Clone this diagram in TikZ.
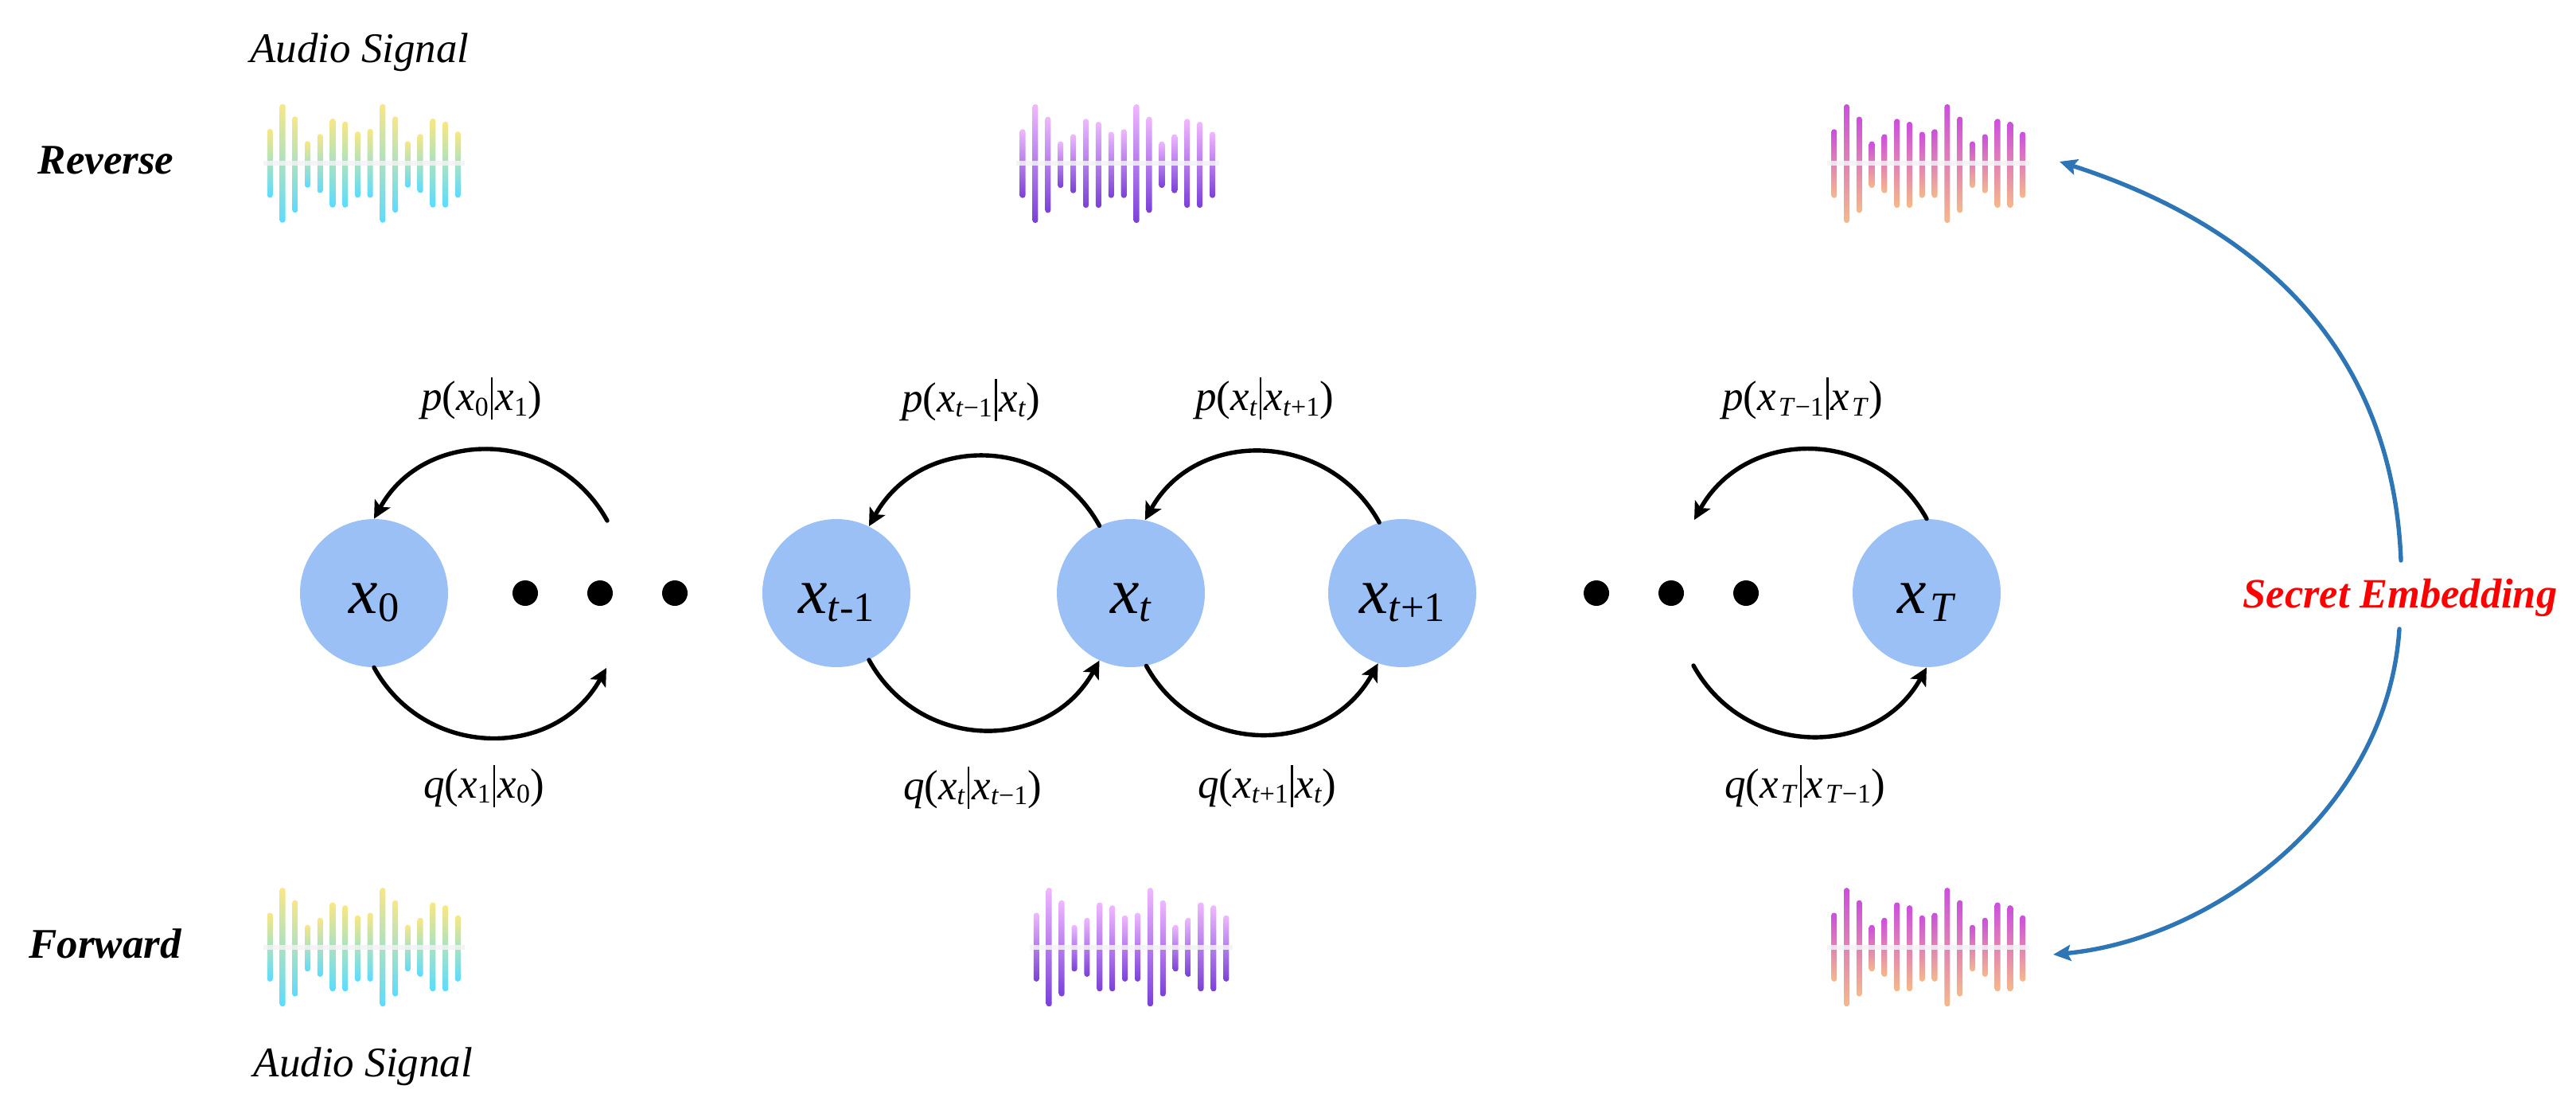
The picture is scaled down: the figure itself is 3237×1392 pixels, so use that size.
\documentclass[tikz,border=0pt]{standalone}
\usepackage{fontspec}
\usepackage{graphicx}
\setmainfont{Liberation Serif}
\usetikzlibrary{arrows.meta}
\definecolor{nodeblue}{HTML}{9BC0F5}
\definecolor{arcblue}{HTML}{2E75B6}
\definecolor{midline}{HTML}{F2F2F5}
\newcommand{\vv}[1]{\textit{#1}}
\newcommand{\sbs}[1]{\raisebox{-0.13em}{\scalebox{0.64}{#1}}}
\newcommand{\tsb}[1]{\hspace{0.03em}\raisebox{-0.13em}{\scalebox{0.64}{\hspace{0.04em}#1}}}
\newcommand{\tb}{\hspace{0.06em}\raisebox{-0.22em}{\rule{0.045em}{1.0em}}\hspace{0.06em}}
\newcommand{\st}[1]{\raisebox{-12.5pt}[0pt][0pt]{#1}}
\tikzset{
  x=0.5pt,y=-0.5pt,
  state/.style={circle,fill=nodeblue,inner sep=0pt,minimum size=93pt,font=\fontsize{41}{44}\selectfont},
  dotnode/.style={circle,fill=black,inner sep=0pt,minimum size=16pt},
  flow/.style={draw=black,line width=2.7pt,line cap=round,-{Stealth[length=11pt,width=11pt,inset=2.5pt]}},
  embed/.style={draw=arcblue,line width=2.7pt,line cap=round,-{Stealth[length=11pt,width=10pt,inset=2pt]}},
  prob/.style={anchor=base,inner sep=0pt,font=\fontsize{26.5}{30}\selectfont},
  side/.style={anchor=base,inner sep=0pt,font=\fontsize{26.5}{30}\selectfont\itshape},
  phase/.style={anchor=base,inner sep=0pt,font=\fontsize{26.5}{30}\selectfont\bfseries\itshape},
  secret/.style={anchor=base,inner sep=0pt,text=red,font=\fontsize{26.2}{32}\selectfont\bfseries\itshape},
}
% #1 x of first bar, #2 y of centre line, #3 top, #4 middle, #5 bottom colour, #6 bar spacing
\newcommand{\wave}[6]{%
  \foreach \i/\u/\d in {0/43/43.3,1/74.3/74.7,2/58.7/62,3/27.7/30.7,4/36.7/37.3,5/56/55.7,6/52.3/55.7,7/39.7/43.3,8/43/43.3,9/74.3/74.7,10/58.7/62,11/27.7/30.7,12/36.7/37.3,13/56/55.7,14/52.3/55.7,15/39.7/43.3}{%
    \shade[rounded corners=1.6pt,top color=#3,middle color=#4,bottom color=#5]
      ({#1+\i*#6-3.5},{#2-\u}) rectangle ({#1+\i*#6+3.5},{#2+\d});
  }%
  \fill[midline,opacity=0.85] ({#1-8.5},{#2-3}) rectangle ({#1+15*#6+8.5},{#2+3});
}
\definecolor{gT}{HTML}{F9E784}\definecolor{gM}{HTML}{B2E6BE}\definecolor{gB}{HTML}{5ADCFF}
\definecolor{pT}{HTML}{F0B8FF}\definecolor{pM}{HTML}{E4AEF2}\definecolor{pB}{HTML}{7A40D8}
\definecolor{oT}{HTML}{CC4EDD}\definecolor{oM}{HTML}{E89BA0}\definecolor{oB}{HTML}{F5B98A}
\begin{document}
\begin{tikzpicture}
\useasboundingbox (0,0) rectangle (3237,1392);
% waveforms
\wave{339.3}{205}{gT}{gM}{gB}{15.74}
\wave{1285}{205.3}{pT}{pM}{pB}{15.9}
\wave{2304.7}{205.3}{oT}{oM}{oB}{15.8}
\wave{339.3}{1189.5}{gT}{gM}{gB}{15.74}
\wave{1302.3}{1189.5}{pT}{pM}{pB}{15.9}
\wave{2304.7}{1189.5}{oT}{oM}{oB}{15.8}
% states
\node[state] (x0) at (470,745) {\st{\vv{x}\sbs{0}}};
\node[state] (xm) at (1051,745) {\st{\vv{x}\sbs{\vv{t}-1}}};
\node[state] (xt) at (1421,745) {\st{\vv{x}\sbs{\vv{t}}}};
\node[state] (xp) at (1762,745) {\st{\vv{x}\sbs{\vv{t}+1}}};
\node[state] (xT) at (2421,745) {\st{\vv{x}\tsb{\vv{T}}}};
% dots
\node[dotnode] (d1) at (660,745) {};
\node[dotnode] (d2) at (754,745) {};
\node[dotnode] (d3) at (848,745) {};
\node[dotnode] (d4) at (2006,745) {};
\node[dotnode] (d5) at (2100,745) {};
\node[dotnode] (d6) at (2194,745) {};
% free ends
\coordinate (fa) at (763,654);
\coordinate (fb) at (762,839);
\coordinate (fc) at (2129,653);
\coordinate (fd) at (2128,836);
\coordinate (ea) at (3017,704);
\coordinate (eb) at (2588,203);
\coordinate (ec) at (3015,790);
\coordinate (ed) at (2580,1199);
% flow arcs
\draw[flow] (fa) .. controls +(-64,-116) and +(64,-116) .. (x0.90);
\draw[flow] (x0.-90) .. controls +(64,116) and +(-64,116) .. (fb);
\draw[flow] (xt.115) .. controls +(-64,-116) and +(64,-116) .. (xm.64);
\draw[flow] (xm.-64) .. controls +(64,116) and +(-64,116) .. (xt.-115);
\draw[flow] (xp.108) .. controls +(-64,-116) and +(64,-116) .. (xt.79);
\draw[flow] (xt.-78) .. controls +(64,116) and +(-64,116) .. (xp.-109);
\draw[flow] (xT.90) .. controls +(-64,-116) and +(64,-116) .. (fc);
\draw[flow] (fd) .. controls +(64,116) and +(-64,116) .. (xT.-90);
% embedding arcs
\draw[embed] (ea) .. controls +(-12,-304) and +(202,65) .. (eb);
\draw[embed] (ec) .. controls +(-15,230) and +(200,-19) .. (ed);
% labels
\node[prob] (l1) at (605,515.5) {\vv{p}(\vv{x}\sbs{0}\tb\vv{x}\sbs{1})};
\node[prob] (l2) at (608,1002) {\vv{q}(\vv{x}\sbs{1}\tb\vv{x}\sbs{0})};
\node[prob] (l3) at (1220,517) {\vv{p}(\vv{x}\sbs{\vv{t}−1}\tb\vv{x}\sbs{\vv{t}})};
\node[prob] (l4) at (1222,1004) {\vv{q}(\vv{x}\sbs{\vv{t}}\tb\vv{x}\sbs{\vv{t}−1})};
\node[prob] (l5) at (1589,515.5) {\vv{p}(\vv{x}\sbs{\vv{t}}\tb\vv{x}\sbs{\vv{t}+1})};
\node[prob] (l6) at (1592,1002) {\vv{q}(\vv{x}\sbs{\vv{t}+1}\tb\vv{x}\sbs{\vv{t}})};
\node[prob] (l7) at (2265,515.5) {\vv{p}(\vv{x}\tsb{\vv{T}−1}\tb\vv{x}\tsb{\vv{T}})};
\node[prob] (l8) at (2268,1002) {\vv{q}(\vv{x}\tsb{\vv{T}}\tb\vv{x}\tsb{\vv{T}−1})};
\node[side] (a1) at (452,78) {Audio Signal};
\node[side] (a2) at (456.5,1352) {Audio Signal};
\node[phase] (r) at (133,218) {Reverse};
\node[phase] (f) at (132,1203) {Forward};
\node[secret] (s) at (3016,763) {Secret Embedding};
\end{tikzpicture}
\end{document}
